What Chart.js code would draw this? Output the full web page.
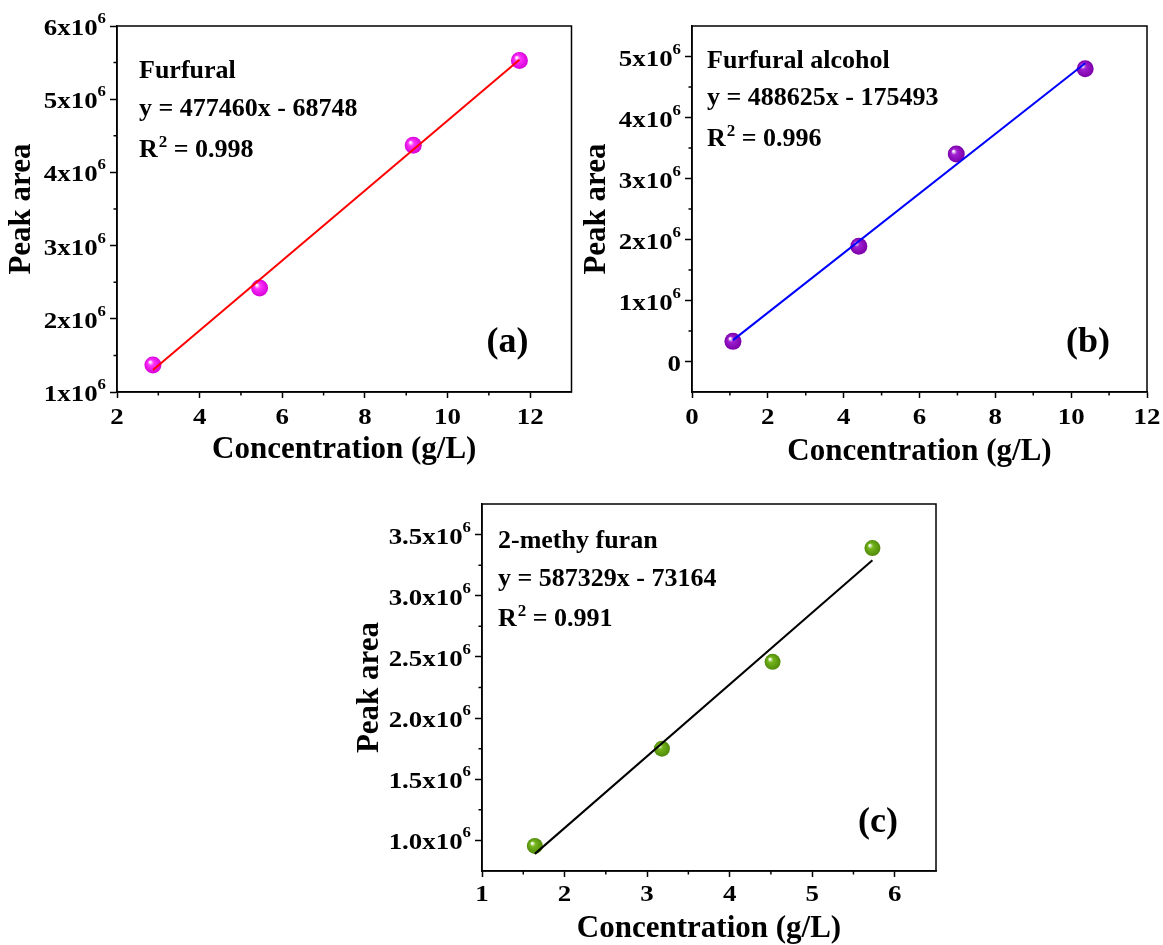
<!DOCTYPE html>
<html>
<head>
	<meta charset="utf-8">
	<title>Calibration curves</title>
	<style>
		body { margin: 0; background: #fff; }
		#wrap { position: relative; width: 1163px; height: 945px; }
		canvas { position: absolute; }
	</style>
</head>
<body>
	<div id="wrap">
		<canvas id="chartA" width="580" height="470" style="left:0px;top:0px"></canvas>
		<canvas id="chartB" width="583" height="470" style="left:580px;top:0px"></canvas>
		<canvas id="chartC" width="600" height="465" style="left:350px;top:480px"></canvas>
	</div>
	<script type="text/javascript" src="https://cdn.jsdelivr.net/npm/chart.js@4.4.0/dist/chart.umd.min.js"></script>
	<script type="text/javascript">
		const SERIF = "'Liberation Serif', 'Times New Roman', serif";

		// (a) Furfural
		const xA = [2.87, 5.45, 9.17, 11.74];
		const yA = [1.37e6, 2.42e6, 4.37e6, 5.53e6];
		const fitXA = [2.87, 11.74];
		const fitYA = [1.30e6, 5.54e6];
		const xTicksA = [2, 4, 6, 8, 10, 12];
		const xMinorA = [3, 5, 7, 9, 11];
		const yTicksA = [1e6, 2e6, 3e6, 4e6, 5e6, 6e6];
		const yLabelsA = ["1x10^6", "2x10^6", "3x10^6", "4x10^6", "5x10^6", "6x10^6"];
		const yMinorA = [1.5e6, 2.5e6, 3.5e6, 4.5e6, 5.5e6];
		const textA = ["Furfural", "y = 477460x - 68748", "0.998"];

		// (b) Furfural alcohol
		const xB = [1.08, 4.40, 6.97, 10.37];
		const yB = [0.33e6, 1.89e6, 3.40e6, 4.80e6];
		const fitXB = [1.08, 10.37];
		const fitYB = [0.35e6, 4.89e6];
		const xTicksB = [0, 2, 4, 6, 8, 10, 12];
		const xMinorB = [1, 3, 5, 7, 9, 11];
		const yTicksB = [0, 1e6, 2e6, 3e6, 4e6, 5e6];
		const yLabelsB = ["0", "1x10^6", "2x10^6", "3x10^6", "4x10^6", "5x10^6"];
		const yMinorB = [0.5e6, 1.5e6, 2.5e6, 3.5e6, 4.5e6];
		const textB = ["Furfural alcohol", "y = 488625x - 175493", "0.996"];

		// (c) 2-methy furan
		const xC = [1.64, 3.18, 4.52, 5.73];
		const yC = [0.955e6, 1.75e6, 2.46e6, 3.39e6];
		const fitXC = [1.64, 5.73];
		const fitYC = [0.89e6, 3.29e6];
		const xTicksC = [1, 2, 3, 4, 5, 6];
		const xMinorC = [1.5, 2.5, 3.5, 4.5, 5.5];
		const yTicksC = [1.0e6, 1.5e6, 2.0e6, 2.5e6, 3.0e6, 3.5e6];
		const yLabelsC = ["1.0x10^6", "1.5x10^6", "2.0x10^6", "2.5x10^6", "3.0x10^6", "3.5x10^6"];
		const yMinorC = [1.25e6, 1.75e6, 2.25e6, 2.75e6, 3.25e6];
		const textC = ["2-methy furan", "y = 587329x - 73164", "0.991"];

		const TICK_STRETCH = 1.12; // tick numbers in the figure are drawn a bit wide

		function toPoints(xs, ys) {
			return xs.map((x, i) => ({x: x, y: ys[i]}));
		}

		// shaded ball look for the markers
		function sphere(dark, mid, r) {
			return function(c) {
				const chart = c.chart;
				if (c.type !== "data" || !chart.scales.x || !c.parsed) return mid;
				const px = chart.scales.x.getPixelForValue(c.parsed.x);
				const py = chart.scales.y.getPixelForValue(c.parsed.y);
				if (!isFinite(px) || !isFinite(py)) return mid;
				const g = chart.ctx.createRadialGradient(px - r * 0.35, py - r * 0.35, 0.5, px, py, r);
				g.addColorStop(0, "#ffffff");
				g.addColorStop(0.3, mid);
				g.addColorStop(1, dark);
				return g;
			};
		}

		function wideText(ctx, str, x, y, align) {
			ctx.save();
			ctx.translate(x, y);
			ctx.scale(TICK_STRETCH, 1);
			ctx.textAlign = align;
			ctx.fillText(str, 0, 0);
			ctx.restore();
			return ctx.measureText(str).width * TICK_STRETCH;
		}

		const panelPlugin = {
			id: "panelDecor",
			afterDraw(chart, args, o) {
				const ctx = chart.ctx;
				const a = chart.chartArea;
				const xs = chart.scales.x, ys = chart.scales.y;
				ctx.save();
				ctx.strokeStyle = "#000";
				ctx.lineWidth = 1.5;
				ctx.strokeRect(a.left, a.top, a.right - a.left, a.bottom - a.top);

				// minor ticks
				ctx.beginPath();
				o.xMinor.forEach(v => {
					const p = xs.getPixelForValue(v);
					ctx.moveTo(p, a.bottom); ctx.lineTo(p, a.bottom + 3.5);
				});
				o.yMinor.forEach(v => {
					const p = ys.getPixelForValue(v);
					ctx.moveTo(a.left, p); ctx.lineTo(a.left - 3.5, p);
				});
				ctx.stroke();

				ctx.fillStyle = "#000";
				ctx.textBaseline = "alphabetic";

				// x tick labels
				ctx.font = "bold 24px " + SERIF;
				o.xTicks.forEach(v => {
					wideText(ctx, String(v), xs.getPixelForValue(v), a.bottom + o.xLabelDy, "center");
				});

				// y tick labels with superscript exponent
				o.yTicks.forEach((v, i) => {
					const p = ys.getPixelForValue(v);
					const parts = o.yLabels[i].split("^");
					let xr = a.left - 11;
					if (parts.length > 1) {
						ctx.font = "bold 15px " + SERIF;
						xr -= wideText(ctx, parts[1], xr, p - 3, "right");
					}
					ctx.font = "bold 24px " + SERIF;
					wideText(ctx, parts[0], xr, p + 9, "right");
				});

				// equation block
				ctx.textAlign = "left";
				let tx = a.left + o.textDx;
				ctx.font = "bold 26px " + SERIF;
				ctx.fillText(o.text[0], tx, a.top + o.textDy[0]);
				ctx.fillText(o.text[1], tx, a.top + o.textDy[1]);
				const yb = a.top + o.textDy[2];
				ctx.fillText("R", tx, yb);
				tx += ctx.measureText("R").width + 1;
				ctx.font = "bold 17px " + SERIF;
				ctx.fillText("2", tx, yb - 10);
				tx += ctx.measureText("2").width;
				ctx.font = "bold 26px " + SERIF;
				ctx.fillText(" = " + o.text[2], tx, yb);

				// panel letter
				ctx.textAlign = "right";
				ctx.font = "bold 36px " + SERIF;
				ctx.fillText(o.letter, a.right + o.letterDx, a.bottom + o.letterDy);
				ctx.restore();
			}
		};

		function makePanel(id, p) {
			const titleFont = {family: SERIF, weight: "bold", size: 31, lineHeight: 1};
			return new Chart(document.getElementById(id), {
				type: "scatter",
				data: {
					datasets: [
						{
							data: toPoints(p.fitX, p.fitY),
							showLine: true,
							borderColor: p.lineColor,
							borderWidth: 2,
							pointRadius: 0,
						},
						{
							data: toPoints(p.xs, p.ys),
							pointRadius: p.radius,
							pointBorderWidth: 0,
							pointBackgroundColor: sphere(p.dark, p.mid, p.radius),
							borderColor: "rgba(0,0,0,0)",
						}
					]
				},
				options: {
					responsive: false,
					animation: false,
					layout: {padding: {left: 0, top: p.padTop, right: p.padRight, bottom: 0}},
					plugins: {
						legend: {display: false},
						tooltip: {enabled: false},
						panelDecor: {
							xTicks: p.xTicks, xMinor: p.xMinor, xLabelDy: p.xLabelDy,
							yMinor: p.yMinor, yTicks: p.yTicks, yLabels: p.yLabels,
							text: p.text, textDx: p.textDx, textDy: p.textDy,
							letter: p.letter, letterDx: p.letterDx, letterDy: p.letterDy,
						}
					},
					scales: {
						x: {
							type: "linear",
							min: p.xMin, max: p.xMax,
							afterBuildTicks: s => { s.ticks = p.xTicks.map(v => ({value: v})); },
							afterFit: s => { s.height = p.xAxisH; },
							grid: {drawOnChartArea: false, drawTicks: true, tickLength: 6, tickColor: "#000", tickWidth: 1.5},
							border: {display: true, color: "#000", width: 1.5},
							ticks: {display: false},
							title: {display: true, text: "Concentration (g/L)", font: titleFont, color: "#000", padding: {top: 0, bottom: p.xTitlePad}},
						},
						y: {
							type: "linear",
							min: p.yMin, max: p.yMax,
							afterBuildTicks: s => { s.ticks = p.yTicks.map(v => ({value: v})); },
							afterFit: s => { s.width = p.yAxisW; },
							grid: {drawOnChartArea: false, drawTicks: true, tickLength: 7, tickColor: "#000", tickWidth: 1.5},
							border: {display: true, color: "#000", width: 1.5},
							ticks: {display: false},
							title: {display: true, text: "Peak area", font: titleFont, color: "#000", padding: {top: p.yTitlePad, bottom: 0}},
						}
					}
				},
				plugins: [panelPlugin]
			});
		}

		makePanel("chartA", {
			xs: xA, ys: yA, fitX: fitXA, fitY: fitYA,
			xTicks: xTicksA, xMinor: xMinorA, yTicks: yTicksA, yLabels: yLabelsA, yMinor: yMinorA,
			xMin: 2, xMax: 13, yMin: 1e6, yMax: 6e6,
			lineColor: "#ff0000", dark: "#d600d6", mid: "#ff33ff", radius: 8.5,
			padTop: 26, padRight: 7, xAxisH: 78, yAxisW: 117, xTitlePad: 5, yTitlePad: 6, xLabelDy: 32,
			text: textA, textDx: 22, textDy: [52, 90, 131],
			letter: "(a)", letterDx: -43, letterDy: -40,
		});

		makePanel("chartB", {
			xs: xB, ys: yB, fitX: fitXB, fitY: fitYB,
			xTicks: xTicksB, xMinor: xMinorB, yTicks: yTicksB, yLabels: yLabelsB, yMinor: yMinorB,
			xMin: 0, xMax: 12, yMin: -0.5e6, yMax: 5.5e6,
			lineColor: "#0000ff", dark: "#7a00a8", mid: "#a020d0", radius: 8.5,
			padTop: 26, padRight: 16, xAxisH: 78, yAxisW: 112, xTitlePad: 3, yTitlePad: 1, xLabelDy: 32,
			text: textB, textDx: 15, textDy: [42, 79, 120],
			letter: "(b)", letterDx: -37, letterDy: -40,
		});

		makePanel("chartC", {
			xs: xC, ys: yC, fitX: fitXC, fitY: fitYC,
			xTicks: xTicksC, xMinor: xMinorC, yTicks: yTicksC, yLabels: yLabelsC, yMinor: yMinorC,
			xMin: 1, xMax: 6.5, yMin: 0.75e6, yMax: 3.75e6,
			lineColor: "#000000", dark: "#4f8a0a", mid: "#74b41c", radius: 8,
			padTop: 24, padRight: 14, xAxisH: 74, yAxisW: 132, xTitlePad: 1, yTitlePad: 4, xLabelDy: 30,
			text: textC, textDx: 16, textDy: [44, 82, 122],
			letter: "(c)", letterDx: -38, letterDy: -39,
		});
	</script>
</body>
</html>
